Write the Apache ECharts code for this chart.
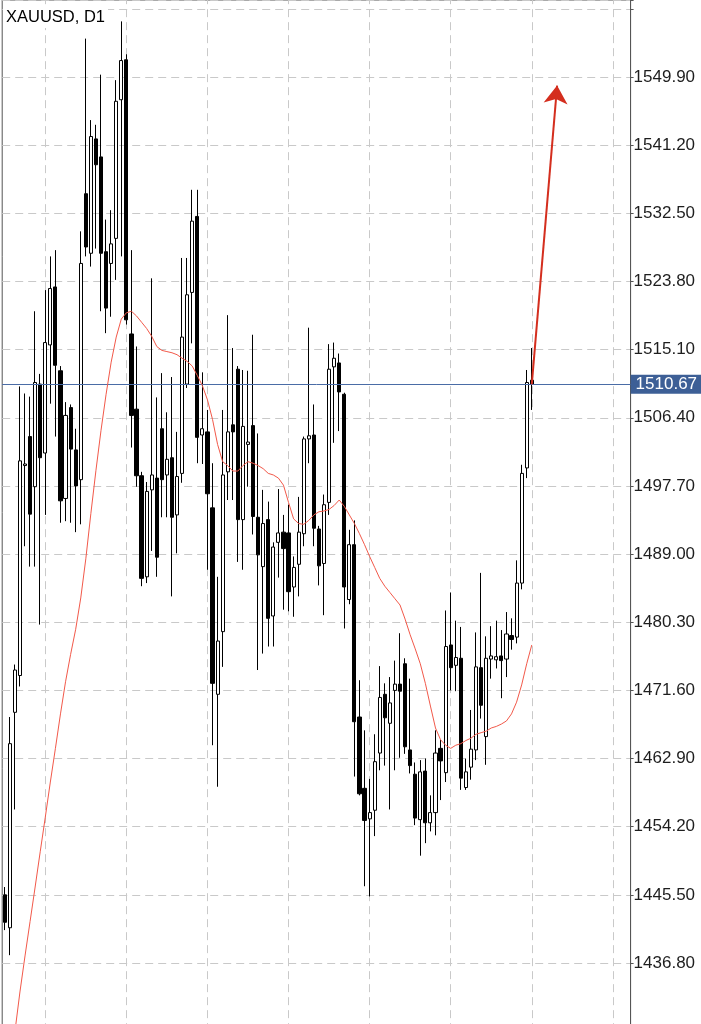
<!DOCTYPE html>
<html><head><meta charset="utf-8">
<script src="https://cdn.jsdelivr.net/npm/echarts@6/dist/echarts.min.js"></script>
<style>html,body{margin:0;padding:0;background:#fff}#chart{width:701px;height:1024px}</style>
</head><body><div id="chart"></div>
<script>
const chartTitle = 'XAUUSD, D1';
const opens = [1445.5,1441.3,1468.8,1473.5,1500.3,1504.0,1497.6,1510.7,1501.9,1515.7,
1523.1,1512.4,1496.1,1507.7,1502.3,1498.5,1535.0,1527.4,1542.0,1539.7,
1527.6,1526.1,1529.3,1547.0,1552.1,1517.1,1507.5,1499.0,1486.1,1497.2,
1498.7,1505.0,1499.1,1501.3,1494.0,1499.3,1510.7,1522.4,1532.1,1504.2,
1504.6,1494.9,1471.1,1479.1,1499.5,1505.5,1512.6,1493.4,1503.0,1505.4,
1493.7,1487.4,1493.4,1481.1,1490.5,1491.8,1491.7,1484.8,1487.7,1491.6,
1503.7,1504.2,1492.2,1487.8,1495.6,1512.9,1513.4,1509.4,1483.2,1490.2,
1468.2,1459.1,1455.2,1456.3,1463.6,1471.1,1467.4,1471.6,1472.4,1475.0,
1464.0,1460.9,1455.1,1461.3,1454.7,1456.0,1464.2,1461.1,1477.4,1474.8,
1475.7,1459.2,1461.8,1464.0,1474.5,1465.7,1475.6,1475.5,1476.0,1475.6,
1478.6,1478.4,1485.3,1500.0,1511.2];
const closes = [1442.0,1464.8,1474.2,1500.9,1500.5,1494.1,1510.9,1501.3,1516.0,1522.9,
1513.1,1495.8,1506.7,1502.4,1497.7,1526.1,1528.2,1542.3,1538.7,1527.4,
1520.4,1528.6,1546.8,1552.0,1518.9,1506.7,1499.0,1485.9,1497.0,1499.1,
1488.6,1498.5,1501.1,1493.7,1498.9,1516.7,1522.1,1531.5,1503.9,1505.0,
1496.7,1472.5,1477.9,1499.1,1504.6,1504.6,1493.4,1505.3,1503.3,1493.8,
1488.9,1492.9,1480.8,1489.9,1491.7,1489.7,1484.2,1487.3,1491.8,1503.7,
1504.1,1492.3,1487.5,1495.3,1512.6,1514.0,1509.7,1484.8,1490.2,1467.6,
1458.4,1455.0,1456.0,1462.5,1470.7,1468.1,1470.0,1472.4,1471.5,1464.4,
1462.0,1455.3,1461.2,1454.7,1456.0,1463.6,1462.6,1477.2,1474.5,1475.8,
1460.4,1461.2,1464.1,1474.6,1469.7,1475.7,1476.0,1475.9,1475.4,1478.8,
1478.1,1485.3,1499.3,1510.9,1510.67];
const lows = [1441.0,1437.8,1456.4,1472.1,1490.0,1487.4,1487.4,1480.0,1494.0,1508.2,
1504.0,1493.0,1493.2,1493.0,1491.8,1492.8,1527.0,1525.7,1528.0,1520.0,
1517.2,1519.3,1524.0,1527.0,1518.3,1502.6,1497.6,1484.9,1485.3,1489.4,
1486.1,1493.7,1493.7,1483.6,1489.1,1498.1,1510.2,1515.9,1500.6,1500.5,
1487.0,1464.6,1459.3,1474.6,1495.9,1495.9,1488.0,1487.0,1497.6,1491.5,
1474.2,1476.3,1477.2,1477.2,1486.0,1481.9,1481.7,1481.0,1483.6,1490.0,
1500.6,1490.0,1485.0,1481.2,1494.0,1503.2,1504.7,1479.5,1482.6,1460.6,
1458.2,1446.6,1445.3,1453.0,1461.4,1462.0,1456.4,1461.4,1463.0,1463.5,
1461.0,1454.4,1450.5,1452.1,1453.6,1453.1,1457.6,1459.9,1471.6,1471.5,
1458.9,1458.9,1460.2,1462.7,1468.0,1462.1,1473.1,1474.4,1470.6,1473.3,
1476.8,1477.6,1484.5,1498.7,1507.4];
const highs = [1446.5,1468.2,1474.9,1510.4,1509.5,1509.1,1520.0,1512.0,1522.7,1527.0,
1527.8,1513.0,1508.4,1508.1,1505.0,1530.2,1554.8,1544.4,1543.8,1550.2,
1531.7,1532.9,1549.5,1557.0,1552.8,1527.8,1515.5,1499.5,1498.2,1524.2,
1509.0,1512.1,1507.1,1511.6,1504.6,1526.8,1526.8,1535.5,1535.5,1512.2,
1507.4,1500.6,1486.1,1507.4,1519.5,1515.3,1513.0,1512.5,1512.4,1517.0,
1504.4,1497.2,1495.7,1490.5,1497.3,1494.0,1495.3,1488.7,1496.3,1504.0,
1517.9,1508.1,1492.6,1496.6,1515.8,1516.0,1514.6,1509.6,1492.1,1493.3,
1472.9,1466.5,1460.3,1466.0,1474.7,1472.5,1473.3,1475.4,1478.9,1475.7,
1473.1,1462.4,1462.7,1462.9,1458.2,1466.5,1465.3,1481.8,1484.1,1480.5,
1479.7,1462.9,1469.1,1479.0,1486.6,1478.5,1479.8,1480.5,1479.3,1481.6,
1480.8,1488.2,1500.4,1512.5,1515.3];
const maValues = [1418,1423,1428,1433.1,1437.7,1442.1,1446.5,1451.0,1455.4,1459.9,
1464.2,1468.6,1472.7,1476.2,1479.4,1483.4,1488.4,1494.2,1499.7,1504.8,
1509.4,1513.5,1516.7,1519.0,1519.8,1520.0,1519.4,1518.6,1517.8,1516.8,
1515.5,1515.0,1514.85,1514.7,1514.45,1514.0,1513.6,1513.0,1511.8,1510.5,
1508.7,1506.2,1503.0,1500.8,1500.3,1499.6,1499.6,1500.3,1500.8,1500.6,
1500.3,1499.9,1499.3,1499.1,1498.7,1497.8,1495.6,1493.5,1492.9,1492.8,
1493.3,1494.0,1494.4,1494.5,1494.7,1495.2,1495.9,1495.1,1494.0,1492.9,
1491.6,1490.2,1488.7,1487.3,1485.9,1484.9,1484.1,1483.3,1482.5,1480.7,
1478.7,1476.9,1475.0,1472.5,1469.6,1466.8,1465.3,1464.6,1464.2,1464.6,
1464.8,1465.2,1465.5,1466.0,1466.2,1466.4,1466.8,1467.0,1467.3,1467.7,
1468.6,1470.1,1472.3,1475.0,1477.4];
const yTickLabels = ['1436.80','1445.50','1454.20','1462.90','1471.60','1480.30','1489.00',
'1497.70','1506.40','1515.10','1523.80','1532.50','1541.20','1549.90'];
const currentPrice = 1510.67;
const arrowTarget = { bar: 109, price: 1548.8 };
const emptySlotsRight = 19;
const gridEvery = 16, gridFirst = 8;

const nBars = opens.length;
const categories = [];
for (let i = 0; i < nBars + emptySlotsRight; i++) categories.push(i < nBars ? String(i + 1) : '');
const candleData = opens.map((o, i) => [o, closes[i], lows[i], highs[i]]);
const vGrid = [];
for (let i = gridFirst; i < categories.length; i += gridEvery) vGrid.push({ xAxis: i });

const FONT = '"Liberation Sans", Arial, Helvetica, sans-serif';
const chart = echarts.init(document.getElementById('chart'), null, { renderer: 'canvas' });
chart.setOption({
  animation: false,
  backgroundColor: '#ffffff',
  title: {
    text: chartTitle, left: 3, top: 7, padding: [2, 3, 2, 3],
    backgroundColor: '#ffffff',
    textStyle: { fontSize: 16.5, fontWeight: 'normal', color: '#000', fontFamily: FONT }
  },
  grid: {
    left: 2.2, top: 0, width: 628.4, height: 1031.16,
    outerBoundsMode: 'none', containLabel: false,
    show: true, borderColor: '#555', borderWidth: 1, backgroundColor: 'transparent'
  },
  xAxis: {
    type: 'category', data: categories, boundaryGap: true,
    axisLine: { show: false }, axisTick: { show: false }, axisLabel: { show: false }, splitLine: { show: false }
  },
  yAxis: {
    type: 'value', position: 'right', scale: true,
    min: 1428.1, max: 1559.73, interval: 8.7,
    axisLine: { show: true, lineStyle: { color: '#555', width: 1 } },
    axisTick: { show: true, length: 3, lineStyle: { color: '#555' } },
    axisLabel: {
      show: true, margin: 3, color: '#1e1e1e', fontSize: 17, fontFamily: FONT,
      formatter: v => { const s = Number(v).toFixed(2); return yTickLabels.includes(s) ? s : ''; }
    },
    splitLine: { show: true, lineStyle: { color: '#c9c9c9', type: [8, 5], width: 1 } }
  },
  series: [
    {
      type: 'line', data: [], silent: true, z: 1,
      markLine: {
        z: 1, silent: true, symbol: ['none', 'none'], label: { show: false },
        lineStyle: { color: '#c9c9c9', type: [8, 5], width: 1 },
        emphasis: { disabled: true },
        data: vGrid
      }
    },
    {
      type: 'candlestick', data: candleData, barWidth: '72%', z: 3, silent: true,
      itemStyle: { color: '#ffffff', color0: '#000000', borderColor: '#000000', borderColor0: '#000000', borderWidth: 1 },
      markLine: {
        z: 4, silent: true, symbol: ['none', 'none'],
        lineStyle: { color: '#4a6ca6', type: 'solid', width: 1, opacity: 1 },
        label: {
          show: true, position: 'end', distance: 0,
          formatter: () => currentPrice.toFixed(2),
          backgroundColor: '#3d5f96', color: '#ffffff', fontSize: 17, fontFamily: FONT,
          padding: [1, 5, 1, 5]
        },
        emphasis: { disabled: true },
        data: [{ yAxis: currentPrice }]
      }
    },
    {
      type: 'line', data: maValues, z: 4, silent: true, symbol: 'none',
      lineStyle: { color: '#f2594a', width: 1 },
      markLine: {
        z: 6, silent: true, symbol: ['none', 'arrow'], symbolSize: [18, 18],
        lineStyle: { color: '#d42e1e', type: 'solid', width: 2 },
        label: { show: false },
        emphasis: { disabled: true },
        data: [[{ coord: [nBars - 1, currentPrice] }, { coord: [arrowTarget.bar, arrowTarget.price] }]]
      }
    }
  ]
});
</script>
</body></html>
